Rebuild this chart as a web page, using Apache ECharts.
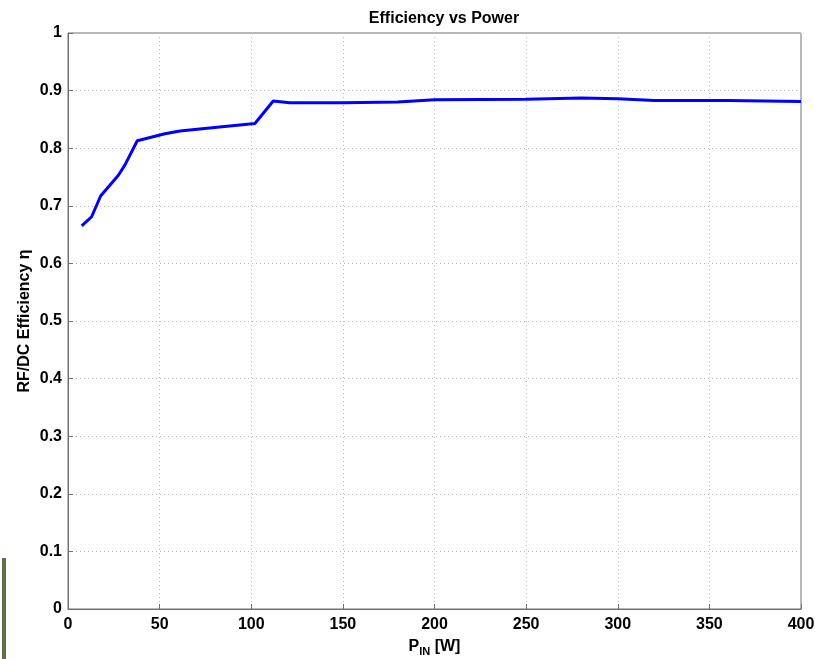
<!DOCTYPE html>
<html>
<head>
<meta charset="utf-8">
<script src="https://cdn.jsdelivr.net/npm/echarts@6/dist/echarts.min.js"></script>
<style>
  html, body { margin: 0; padding: 0; background: #fff; }
  #main { width: 815px; height: 659px; }
</style>
</head>
<body>
<div id="main"></div>
<script>
// power in (W) and efficiency
const powerIn = [7.5, 12.9, 17.8, 27.5, 31.1, 37.8, 52.9, 61.1, 80, 102, 112, 121, 150, 180, 200, 250, 280, 300, 320, 360, 400]
const efficiency = [0.665, 0.681, 0.717, 0.753, 0.771, 0.813, 0.825, 0.830, 0.836, 0.843, 0.882, 0.879, 0.879, 0.880, 0.884, 0.885, 0.887, 0.886, 0.883, 0.883, 0.881]
const yTicks = [0, 0.1, 0.2, 0.3, 0.4, 0.5, 0.6, 0.7, 0.8, 0.9, 1]

var chart = echarts.init(document.getElementById('main'))
var font = 'Liberation Sans, Arial, sans-serif'

var option = {
  animation: false,
  title: {
    text: 'Efficiency vs Power',
    left: 439,
    top: 6,
    textAlign: 'center',
    textStyle: { fontFamily: font, fontSize: 16, fontWeight: 'bold', color: '#000' }
  },
  grid: {
    left: 68, right: 14, top: 33, bottom: 50,
    outerBoundsMode: 'none',
    containLabel: false,
    show: true, borderColor: '#707070', borderWidth: 1, backgroundColor: '#fff'
  },
  xAxis: {
    type: 'value',
    min: 0, max: 400, interval: 50,
    name: '{p|P}{s|IN}{p| [W]}',
    nameLocation: 'middle',
    nameGap: 27,
    nameMoveOverlap: false,
    nameTextStyle: {
      rich: {
        p: { fontFamily: font, fontSize: 16, fontWeight: 'bold', color: '#000' },
        s: { fontFamily: font, fontSize: 11, fontWeight: 'bold', color: '#000', padding: [10, 0, 0, 0] }
      }
    },
    axisLine: { show: true, lineStyle: { color: '#707070' } },
    axisTick: { inside: true, length: 5, lineStyle: { color: '#707070' } },
    axisLabel: { fontFamily: font, fontSize: 16, fontWeight: 'bold', color: '#000', margin: 8 },
    splitLine: { show: true, lineStyle: { color: '#b8b8b8', type: [1, 3] } }
  },
  yAxis: {
    type: 'value',
    min: 0, max: 1, interval: 0.1,
    name: 'RF/DC Efficiency η',
    nameLocation: 'middle',
    nameGap: 35,
    nameMoveOverlap: false,
    nameTextStyle: { fontFamily: font, fontSize: 16, fontWeight: 'bold', color: '#000' },
    axisLine: { show: true, lineStyle: { color: '#707070' } },
    axisTick: { inside: true, length: 5, lineStyle: { color: '#707070' } },
    axisLabel: {
      fontFamily: font, fontSize: 16, fontWeight: 'bold', color: '#000', margin: 6,
      formatter: function (v) {
        var t = yTicks.find(function (k) { return Math.abs(k - v) < 1e-6 })
        return t === undefined ? '' : String(t)
      }
    },
    splitLine: { show: true, lineStyle: { color: '#b8b8b8', type: [1, 3] } }
  },
  series: [
    {
      type: 'line',
      data: powerIn.map(function (p, i) { return [p, efficiency[i]] }),
      showSymbol: false,
      lineStyle: { color: '#0000ff', width: 3 },
      itemStyle: { color: '#0000ff' }
    }
  ],
  graphic: [
    {
      type: 'rect',
      shape: { x: 2, y: 558, width: 4, height: 101 },
      style: { fill: '#5d7048' }
    }
  ]
}

option && chart.setOption(option)
</script>
</body>
</html>
